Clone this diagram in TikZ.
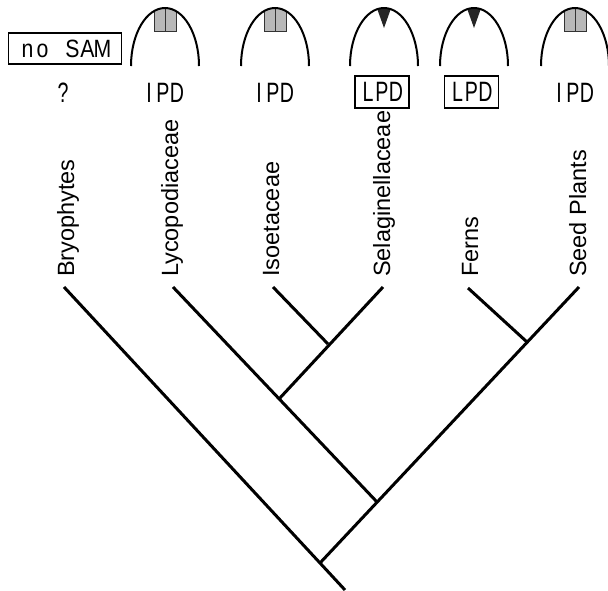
\documentclass[tikz,border=0pt]{standalone}
\usepackage{fontspec}
\setmainfont{Liberation Sans}
\newfontfamily\taxfont{Liberation Sans}
\newfontfamily\gothfont[FakeStretch=0.7]{Liberation Sans}
\newfontfamily\gothwide[FakeStretch=0.85]{Liberation Sans}
% fixed-width cells give the zone labels an even, typewriter-like spacing
\newcommand\cellchar[1]{\makebox[14pt][c]{#1}}
\newcommand\smallcell[1]{\makebox[15pt][c]{#1}}

\tikzset{
  branch/.style={line width=3pt},
  apexline/.style={line width=2pt},
  taxon/.style={rotate=90, anchor=base west, inner sep=0pt,
    font=\taxfont\fontsize{23.5}{23.5}\selectfont},
  zonelabel/.style={anchor=base, inner sep=0pt,
    font=\gothfont\fontsize{28}{28}\selectfont},
  zonebox/.style={draw, line width=1.8pt, inner sep=0pt, anchor=center,
    minimum width=54pt, minimum height=32pt,
    font=\gothfont\fontsize{28}{28}\selectfont},
  % shoot apex outline
  apexarch/.pic={
    \draw[apexline] (-34,66) arc[start angle=180, end angle=360, x radius=34, y radius=58];
  },
  % apex with a group of apical initials (grey, split in two)
  ipdapex/.pic={
    \begin{scope}
      \clip (-34,66) arc[start angle=180, end angle=360, x radius=34, y radius=58] -- cycle;
      \filldraw[fill=black!28, draw=black!80, line width=1pt] (-11,0) rectangle (11,31);
      \draw[black!80, line width=1pt] (0,0) -- (0,31);
    \end{scope}
    \pic {apexarch};
  },
  % apex with a single apical cell (dark triangle)
  lpdapex/.pic={
    \begin{scope}
      \clip (-34,66) arc[start angle=180, end angle=360, x radius=34, y radius=58] -- cycle;
      \fill[black!85] (-10,0) -- (10,0) -- (0,28) -- cycle;
    \end{scope}
    \pic {apexarch};
  },
}

\begin{document}
\begin{tikzpicture}[x=1pt, y=-1pt]
  \useasboundingbox (0,0) rectangle (608,590);

  % --- shoot apices ---
  \pic at (165,0) {ipdapex};
  \pic at (275,0) {ipdapex};
  \pic at (384,0) {lpdapex};
  \pic at (474,0) {lpdapex};
  \pic at (575,0) {ipdapex};

  \node[zonebox, minimum width=113pt, minimum height=31pt,
        font=\gothwide\fontsize{25}{25}\selectfont] (nosam) at (65,48.5)
    {\smallcell{n}\smallcell{o}\smallcell{}\smallcell{S}\smallcell{A}\smallcell{M}};

  % --- apex types ---
  \node[zonelabel] (q)    at (63,102)  {?};
  \node[zonelabel] (ipd1) at (163,102) {\cellchar{I}\cellchar{P}\cellchar{D}};
  \node[zonelabel] (ipd2) at (273,102) {\cellchar{I}\cellchar{P}\cellchar{D}};
  \node[zonebox]   (lpd1) at (382,92)  {\cellchar{L}\cellchar{P}\cellchar{D}};
  \node[zonebox]   (lpd2) at (471.5,92) {\cellchar{L}\cellchar{P}\cellchar{D}};
  \node[zonelabel] (ipd3) at (573,102) {\cellchar{I}\cellchar{P}\cellchar{D}};

  % --- taxon names ---
  \node[taxon] (lbryo) at (74,277)  {Bryophytes};
  \node[taxon] (llyco) at (178,277) {Lycopodiaceae};
  \node[taxon] (liso)  at (279,277) {Isoetaceae};
  \node[taxon] (lsel)  at (390,277) {Selaginellaceae};
  \node[taxon] (lfern) at (478,277) {Ferns};
  \node[taxon] (lseed) at (586,277) {Seed Plants};

  % --- tree ---
  \coordinate (bryo) at (64,287);
  \coordinate (lyco) at (173,287);
  \coordinate (iso)  at (273,287);
  \coordinate (sel)  at (383,287);
  \coordinate (fern) at (468,288);
  \coordinate (seed) at (579,287);
  \coordinate (isosel)   at (328,344);
  \coordinate (lycopods) at (279,399);
  \coordinate (euphyll)  at (527,342);
  \coordinate (vascular) at (377,502);
  \coordinate (root)     at (320,563);
  \coordinate (base)     at (345,590);

  \draw[branch] (bryo) -- (root) -- (base);
  \draw[branch] (lyco) -- (vascular);
  \draw[branch] (sel)  -- (lycopods);
  \draw[branch] (iso)  -- (isosel);
  \draw[branch] (seed) -- (root);
  \draw[branch] (fern) -- (euphyll);
\end{tikzpicture}
\end{document}
